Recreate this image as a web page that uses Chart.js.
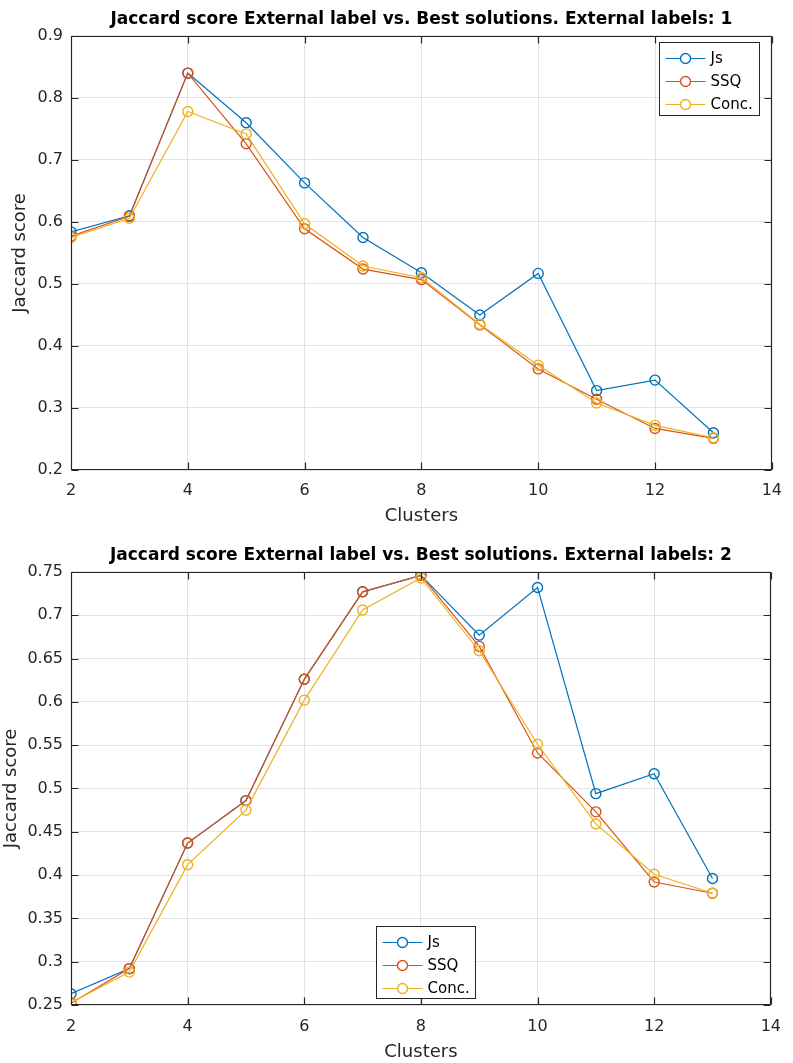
<!DOCTYPE html>
<html>
<head>
<meta charset="utf-8">
<script src="https://cdn.jsdelivr.net/npm/chart.js@4.4.1/dist/chart.umd.min.js"></script>
<style>
  html, body { margin: 0; padding: 0; background: #fff; }
  #wrap { position: relative; width: 793px; height: 1063px; }
  .panel { position: absolute; left: 0; width: 793px; }
</style>
</head>
<body>
<div id="wrap">
  <div class="panel" style="top:0;height:530px"><canvas id="chart1"></canvas></div>
  <div class="panel" style="top:530px;height:533px"><canvas id="chart2"></canvas></div>
</div>
<script>
// data
const clusters = [2, 3, 4, 5, 6, 7, 8, 9, 10, 11, 12, 13];
const seriesNames = ["Js", "SSQ", "Conc."];
const seriesColors = ["#0072bd", "#d95319", "#edb120"];
const xTicks = [2, 4, 6, 8, 10, 12, 14];

// External labels: 1
const js1 = [0.584, 0.610, 0.840, 0.760, 0.663, 0.575, 0.518, 0.450, 0.517, 0.328, 0.345, 0.260];
const ssq1 = [0.577, 0.609, 0.840, 0.726, 0.589, 0.524, 0.507, 0.434, 0.363, 0.314, 0.267, 0.251];
const conc1 = [0.575, 0.606, 0.778, 0.742, 0.597, 0.529, 0.510, 0.435, 0.369, 0.308, 0.272, 0.252];
const yTicks1 = [0.2, 0.3, 0.4, 0.5, 0.6, 0.7, 0.8, 0.9];

// External labels: 2
const js2 = [0.263, 0.292, 0.437, 0.486, 0.626, 0.727, 0.746, 0.677, 0.732, 0.494, 0.517, 0.396];
const ssq2 = [0.252, 0.292, 0.437, 0.486, 0.626, 0.727, 0.746, 0.664, 0.541, 0.473, 0.392, 0.379];
const conc2 = [0.253, 0.288, 0.412, 0.475, 0.602, 0.706, 0.743, 0.659, 0.551, 0.459, 0.401, 0.379];
const yTicks2 = [0.25, 0.3, 0.35, 0.4, 0.45, 0.5, 0.55, 0.6, 0.65, 0.7, 0.75];

Chart.defaults.font.family = "'DejaVu Sans', sans-serif";
Chart.defaults.color = "#262626";

const axisColor = "#262626";
const gridColor = "#e3e3e3";

function makeDatasets(seriesValues) {
  return seriesValues.map((values, i) => ({
    label: seriesNames[i],
    data: clusters.map((c, j) => ({ x: c, y: values[j] })),
    borderColor: seriesColors[i],
    borderWidth: 1.2,
    pointStyle: "circle",
    pointRadius: 5,
    pointBorderWidth: 1.4,
    pointBorderColor: seriesColors[i],
    pointBackgroundColor: "rgba(0,0,0,0)",
    fill: false,
    tension: 0,
    order: seriesValues.length - i, // later series on top, like MATLAB
  }));
}

// box round the axes with ticks pointing inward, plus a floating legend
const matlabAxes = {
  id: "matlabAxes",
  afterDraw(chart, args, opts) {
    const { ctx, chartArea: a, scales } = chart;
    const L = Math.round(a.left) + 0.5;
    const R = Math.round(a.right) - 0.5;
    const T = Math.round(a.top) + 0.5;
    const B = Math.round(a.bottom) - 0.5;
    const tl = 7;
    ctx.save();
    ctx.strokeStyle = axisColor;
    ctx.lineWidth = 1.2;
    ctx.beginPath();
    ctx.rect(L, T, R - L, B - T);
    scales.x.ticks.forEach((t) => {
      const px = Math.round(scales.x.getPixelForValue(t.value)) + 0.5;
      ctx.moveTo(px, B);
      ctx.lineTo(px, B - tl);
      ctx.moveTo(px, T);
      ctx.lineTo(px, T + tl);
    });
    scales.y.ticks.forEach((t) => {
      const py = Math.round(scales.y.getPixelForValue(t.value)) + 0.5;
      ctx.moveTo(L, py);
      ctx.lineTo(L + tl, py);
      ctx.moveTo(R, py);
      ctx.lineTo(R - tl, py);
    });
    ctx.stroke();

    // legend
    const lx = opts.x + 0.5;
    const ly = opts.y + 0.5;
    const rowH = 23;
    ctx.lineWidth = 1;
    ctx.fillStyle = "#fff";
    ctx.fillRect(lx, ly, opts.w, opts.h);
    ctx.strokeStyle = axisColor;
    ctx.strokeRect(lx, ly, opts.w, opts.h);
    ctx.font = "15px 'DejaVu Sans', sans-serif";
    ctx.textBaseline = "middle";
    chart.data.datasets.forEach((ds, i) => {
      const cy = Math.round(ly + 15 + i * rowH) + 0.5;
      ctx.strokeStyle = ds.borderColor;
      ctx.lineWidth = 1.2;
      ctx.beginPath();
      ctx.moveTo(lx + 6, cy);
      ctx.lineTo(lx + 46, cy);
      ctx.stroke();
      ctx.fillStyle = "#fff";
      ctx.lineWidth = 1.4;
      ctx.beginPath();
      ctx.arc(lx + 26, cy, 5, 0, Math.PI * 2);
      ctx.fill();
      ctx.stroke();
      ctx.fillStyle = "#000";
      ctx.fillText(ds.label, lx + 51, cy + 1);
    });
    ctx.restore();
  },
};

function makeOptions(cfg) {
  return {
    responsive: true,
    maintainAspectRatio: false,
    animation: false,
    layout: { padding: { left: 0, right: 13, top: 0, bottom: 0 } },
    plugins: {
      legend: { display: false },
      tooltip: { enabled: false },
      title: {
        display: true,
        text: cfg.title,
        fullSize: false,
        color: "#000",
        font: { size: 17, weight: "bold" },
        padding: { top: cfg.titleTop, bottom: cfg.titleBottom },
      },
      matlabAxes: cfg.legend,
    },
    scales: {
      x: {
        type: "linear",
        min: xTicks[0],
        max: xTicks[xTicks.length - 1],
        afterBuildTicks: (s) => {
          s.ticks = xTicks.map((v) => ({ value: v }));
        },
        afterFit: (s) => {
          s.height = cfg.xHeight;
        },
        grid: { color: gridColor, drawTicks: false },
        border: { display: false },
        ticks: {
          padding: cfg.xTickPad,
          font: { size: 16 },
          color: axisColor,
          maxRotation: 0,
          callback: (v) => String(v),
        },
        title: {
          display: true,
          text: "Clusters",
          color: axisColor,
          font: { size: 18 },
          padding: { top: 0, bottom: cfg.xTitlePad },
        },
      },
      y: {
        min: cfg.yTicks[0],
        max: cfg.yTicks[cfg.yTicks.length - 1],
        afterBuildTicks: (s) => {
          s.ticks = cfg.yTicks.map((v) => ({ value: v }));
        },
        afterFit: (s) => {
          s.width = 71;
        },
        grid: { color: gridColor, drawTicks: false },
        border: { display: false },
        ticks: {
          padding: 8,
          font: { size: 16 },
          color: axisColor,
          callback: (v) => String(v),
        },
        title: {
          display: true,
          text: "Jaccard score",
          color: axisColor,
          font: { size: 18 },
          padding: { top: cfg.yTitlePad, bottom: 0 },
        },
      },
    },
  };
}

const chart1 = new Chart(document.getElementById("chart1"), {
  type: "line",
  data: { datasets: makeDatasets([js1, ssq1, conc1]) },
  options: makeOptions({
    title: "Jaccard score External label vs. Best solutions. External labels: 1",
    titleTop: 9,
    titleBottom: 6.5,
    yTicks: yTicks1,
    xHeight: 60,
    xTickPad: 11,
    xTitlePad: 3,
    yTitlePad: 10,
    legend: { x: 659, y: 42, w: 100, h: 73 },
  }),
  plugins: [matlabAxes],
});

const chart2 = new Chart(document.getElementById("chart2"), {
  type: "line",
  data: { datasets: makeDatasets([js2, ssq2, conc2]) },
  options: makeOptions({
    title: "Jaccard score External label vs. Best solutions. External labels: 2",
    titleTop: 15.5,
    titleBottom: 6,
    yTicks: yTicks2,
    xHeight: 58,
    xTickPad: 12,
    xTitlePad: 0,
    yTitlePad: 1,
    legend: { x: 376, y: 396, w: 99, h: 72 },
  }),
  plugins: [matlabAxes],
});
</script>
</body>
</html>
